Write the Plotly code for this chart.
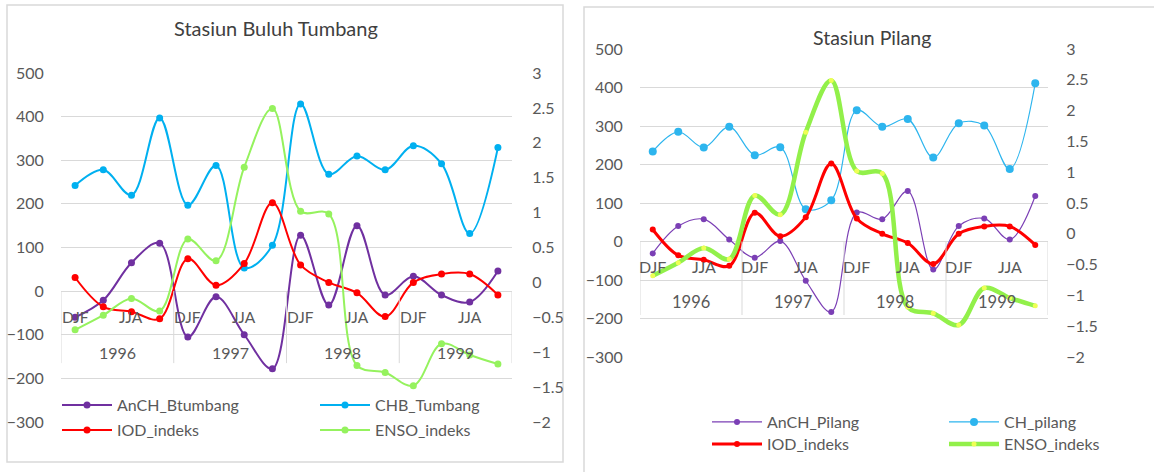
import plotly.graph_objects as go

# ---------------- data ----------------
years = ["1996", "1997", "1998", "1999"]
seasons = ["DJF", "MAM", "JJA", "SON"]
categories = [(y, s) for y in years for s in seasons]

anch_btumbang = [-60, -21, 65, 110, -105, -13, -100, -178, 128, -32, 150, -9, 34, -9, -25, 46]
chb_tumbang = [242, 278, 220, 397, 197, 288, 53, 105, 429, 268, 310, 278, 333, 292, 132, 329]
iod_indeks = [0.07, -0.35, -0.42, -0.52, 0.34, -0.04, 0.27, 1.14, 0.25, 0.0, -0.15, -0.49, 0.0, 0.12, 0.12, -0.18]
enso_indeks = [-0.68, -0.47, -0.23, -0.41, 0.62, 0.31, 1.65, 2.49, 1.02, 0.98, -1.19, -1.29, -1.48, -0.88, -1.04, -1.17]
anch_pilang = [-31, 40, 58, 5, -42, 1, -102, -183, 75, 58, 131, -73, 40, 60, 5, 118]
ch_pilang = [234, 285, 244, 298, 224, 245, 84, 107, 341, 298, 318, 218, 307, 301, 188, 411]

prim_ticks = [-300, -200, -100, 0, 100, 200, 300, 400, 500]
sec_ticks = [-2, -1.5, -1, -0.5, 0, 0.5, 1, 1.5, 2, 2.5, 3]

# ---------------- layout helpers ----------------
W, H = 1154, 472
FONT = "Lato"
TXT = "#595959"
GRID = "#D9D9D9"

def fx(p):
    return p / W

def fy(p):
    return 1 - p / H

xpos = list(range(len(categories)))

PURPLE = "#7030A0"
CYAN = "#00B0F0"
RED = "#FF0000"
GREEN = "#95F25E"

fig = go.Figure()

def add(y, name, color, width, msize, xa, ya, legend, mcolor=None):
    fig.add_trace(go.Scatter(
        x=xpos, y=y, name=name, mode="lines+markers",
        line=dict(color=color, width=width, shape="spline", smoothing=1.0),
        marker=dict(color=mcolor or color, size=msize),
        xaxis=xa, yaxis=ya, legend=legend, hoverinfo="skip"))

# Left panel
add(anch_btumbang, "AnCH_Btumbang", PURPLE, 2, 7, "x", "y", "legend")
add(chb_tumbang, "CHB_Tumbang", CYAN, 2, 7, "x", "y", "legend2")
add(iod_indeks, "IOD_indeks", RED, 2, 7, "x", "y2", "legend3")
add(enso_indeks, "ENSO_indeks", GREEN, 2, 7, "x", "y2", "legend4")
# Right panel
add(anch_pilang, "AnCH_Pilang", "#7B3FB5", 1.2, 6, "x2", "y3", "legend5")
add(ch_pilang, "CH_pilang", "#2DB5EE", 1.2, 8, "x2", "y3", "legend6")
add(iod_indeks, "IOD_indeks", RED, 3, 6, "x2", "y4", "legend7")
add(enso_indeks, "ENSO_indeks", "#92F04A", 4.5, 5, "x2", "y4", "legend8", mcolor="#EEFF55")

axis_common = dict(tickfont=dict(family=FONT, size=16, color=TXT), ticks="outside",
                   tickcolor="rgba(0,0,0,0)", showline=False, automargin=False)

layout = dict(
    width=W, height=H, margin=dict(l=0, r=0, t=0, b=0, autoexpand=False),
    paper_bgcolor="white", plot_bgcolor="white", showlegend=True,
    font=dict(family=FONT, color=TXT),
    xaxis=dict(domain=[fx(61), fx(512)], range=[-0.5, 15.5], showgrid=False, zeroline=False,
               showticklabels=False, showline=False, anchor="y", automargin=False),
    yaxis=dict(domain=[fy(422), fy(73)], range=[-300, 500], tickvals=prim_ticks,
               gridcolor=GRID, gridwidth=1, zeroline=True, zerolinecolor=GRID, zerolinewidth=1,
               ticklen=13, anchor="x", **axis_common),
    yaxis2=dict(overlaying="y", side="right", range=[-2, 3], tickvals=sec_ticks,
                showgrid=False, zeroline=False, ticklen=16, anchor="x", **axis_common),
    xaxis2=dict(domain=[fx(640), fx(1048)], range=[-0.5, 15.5], showgrid=False, zeroline=False,
                showticklabels=False, showline=False, anchor="y3", automargin=False),
    yaxis3=dict(domain=[fy(357), fy(49)], range=[-300, 500], tickvals=prim_ticks,
                gridcolor=GRID, gridwidth=1, zeroline=True, zerolinecolor=GRID, zerolinewidth=1,
                ticklen=13, anchor="x2", **axis_common),
    yaxis4=dict(overlaying="y3", side="right", range=[-2, 3], tickvals=sec_ticks,
                showgrid=False, zeroline=False, ticklen=14, anchor="x2", **axis_common),
)

# legends: one entry each, positioned like the reference
leg_pos = {
    "legend": (57, 405), "legend2": (315, 405),
    "legend3": (57, 430), "legend4": (315, 430),
    "legend5": (707, 422), "legend6": (944, 422),
    "legend7": (707, 444), "legend8": (944, 444),
}
for k, (lx, ly) in leg_pos.items():
    layout[k] = dict(x=fx(lx), y=fy(ly), xanchor="left", yanchor="middle",
                     bgcolor="rgba(0,0,0,0)", borderwidth=0,
                     font=dict(family=FONT, size=16, color=TXT), itemwidth=50)

annotations = []
shapes = []

# category labels (every other season, as in the reference), year labels and dividers
for xa, ya, sy, yy, yd, fs, yfs in [("x", "y", -60, -141, -165, 15.5, 16), ("x2", "y3", -64, -157, -191, 16, 16.5)]:
    for i, (yr, s) in enumerate(categories):
        if i % 2 == 0:
            annotations.append(dict(x=xpos[i], y=sy, xref=xa, yref=ya, text=s, showarrow=False,
                                    xanchor="center", yanchor="middle",
                                    font=dict(family=FONT, size=fs, color=TXT)))
    for j, yr in enumerate(years):
        idx = [i for i, c in enumerate(categories) if c[0] == yr]
        annotations.append(dict(x=(xpos[idx[0]] + xpos[idx[-1]]) / 2, y=yy, xref=xa, yref=ya,
                                text=yr, showarrow=False, xanchor="center", yanchor="middle",
                                font=dict(family=FONT, size=yfs, color=TXT)))
        shapes.append(dict(type="line", xref=xa, yref=ya, x0=xpos[idx[0]] - 0.5, x1=xpos[idx[0]] - 0.5,
                           y0=0, y1=yd, line=dict(color=GRID, width=1)))
    shapes.append(dict(type="line", xref=xa, yref=ya, x0=xpos[-1] + 0.5, x1=xpos[-1] + 0.5,
                       y0=0, y1=yd, line=dict(color=GRID, width=1)))

# titles
annotations.append(dict(x=fx(276), y=fy(28), xref="paper", yref="paper", text="Stasiun Buluh Tumbang",
                        showarrow=False, xanchor="center", yanchor="middle",
                        font=dict(family=FONT, size=20, color="#404040")))
annotations.append(dict(x=fx(872), y=fy(37), xref="paper", yref="paper", text="Stasiun Pilang",
                        showarrow=False, xanchor="center", yanchor="middle",
                        font=dict(family=FONT, size=19.5, color="#404040")))

# panel borders
shapes.append(dict(type="rect", xref="paper", yref="paper", x0=fx(7), x1=fx(563), y0=fy(462), y1=fy(5),
                   line=dict(color=GRID, width=1.5), layer="below"))
shapes.append(dict(type="rect", xref="paper", yref="paper", x0=fx(584), x1=fx(1170), y0=fy(490), y1=fy(7),
                   line=dict(color=GRID, width=1.5), layer="below"))

layout["annotations"] = annotations
layout["shapes"] = shapes
fig.update_layout(**layout)

fig.write_html("out.html", config={"displayModeBar": False, "staticPlot": True},
               post_script="document.body.style.margin='0';document.body.style.overflow='hidden';")
